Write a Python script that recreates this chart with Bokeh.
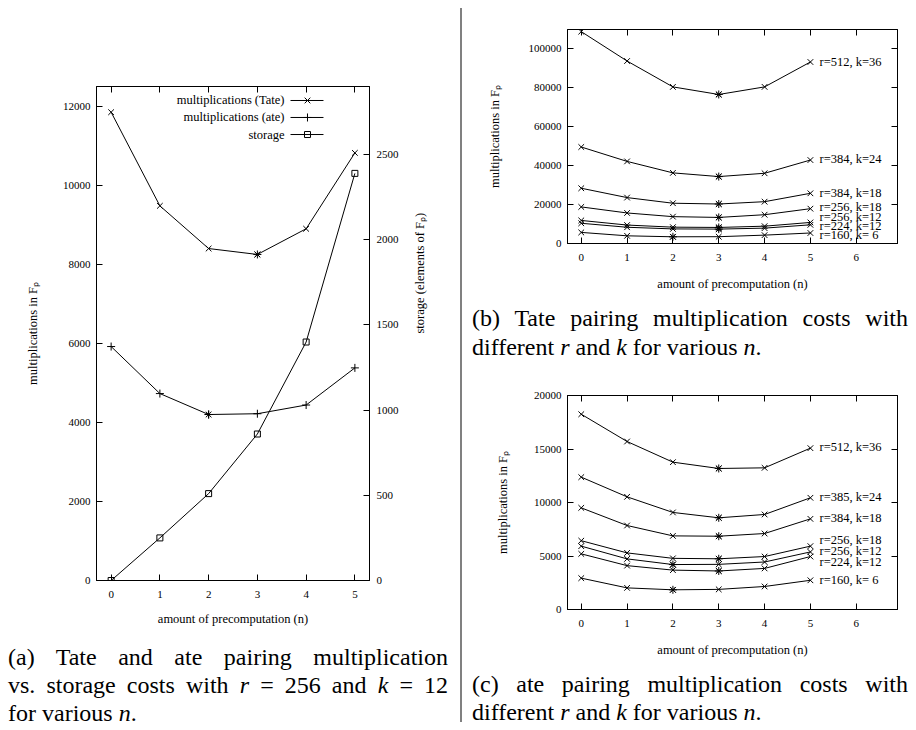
import math
import numpy as np
from bokeh.plotting import figure
from bokeh.models import (LinearAxis, Range1d, FixedTicker, Div, Spacer,
                          CustomJSTickFormatter, BasicTickFormatter)
from bokeh.layouts import row, column
from bokeh.core.properties import value
from bokeh.embed import file_html
from bokeh.resources import INLINE

# ---------------- data ----------------
n = [0, 1, 2, 3, 4, 5]

# (a) r=256, k=12
tate_a = [11850, 9480, 8400, 8250, 8900, 10820]
ate_a = [5920, 4730, 4200, 4220, 4440, 5380]
storage_a = [0, 250, 510, 860, 1400, 2390]
legend_a = ["multiplications (Tate)", "multiplications (ate)", "storage"]

# (b) Tate pairing
labels_b = ["r=512, k=36", "r=384, k=24", "r=384, k=18", "r=256, k=18",
            "r=256, k=12", "r=224, k=12", "r=160, k= 6"]
tate_512_36 = [108900, 93800, 80500, 76600, 80500, 93300]
tate_384_24 = [49600, 42200, 36300, 34400, 36100, 42900]
tate_384_18 = [28400, 23600, 20700, 20300, 21500, 25800]
tate_256_18 = [18800, 15700, 13800, 13400, 14800, 17900]
tate_256_12 = [11850, 9480, 8400, 8250, 8900, 10820]
tate_224_12 = [10400, 8350, 7500, 7400, 7900, 9600]
tate_160_6 = [5700, 3950, 3450, 3500, 4300, 5400]

# (c) ate pairing
labels_c = ["r=512, k=36", "r=385, k=24", "r=384, k=18", "r=256, k=18",
            "r=256, k=12", "r=224, k=12", "r=160, k= 6"]
ate_512_36 = [18250, 15700, 13770, 13180, 13240, 15080]
ate_385_24 = [12370, 10530, 9070, 8570, 8880, 10440]
ate_384_18 = [9500, 7850, 6880, 6850, 7100, 8470]
ate_256_18 = [6430, 5290, 4780, 4740, 4950, 5920]
ate_256_12 = [5920, 4730, 4200, 4220, 4440, 5380]
ate_224_12 = [5200, 4100, 3680, 3600, 3840, 4950]
ate_160_6 = [2930, 2020, 1840, 1880, 2150, 2730]

# ---------------- styling helpers ----------------
SERIF = "Liberation Serif"
TICK_FS = "11px"
LABEL_FS = "12.5px"


def style_axis(ax, ticks, label_standoff=6, axis_label_standoff=10, show_labels=True):
    ax.ticker = FixedTicker(ticks=ticks)
    ax.major_tick_in = 6
    ax.major_tick_out = 0
    ax.minor_tick_line_color = None
    ax.major_tick_line_color = "black"
    ax.axis_line_color = "black"
    ax.major_label_text_font = SERIF
    ax.major_label_text_font_size = TICK_FS
    ax.major_label_text_color = "black"
    ax.major_label_standoff = label_standoff
    ax.axis_label_text_font = SERIF
    ax.axis_label_text_font_size = LABEL_FS
    ax.axis_label_text_font_style = "normal"
    ax.axis_label_text_color = "black"
    ax.axis_label_standoff = axis_label_standoff
    if not show_labels:
        ax.formatter = CustomJSTickFormatter(code="return ''")
        ax.major_label_standoff = 0
        ax.major_label_text_font_size = "0px"


def base_fig(width, height, xr, yr, mb):
    p = figure(width=width, height=height, x_range=xr, y_range=yr,
               output_backend="svg", toolbar_location=None,
               min_border_left=mb[0], min_border_right=mb[1],
               min_border_top=mb[2], min_border_bottom=mb[3])
    p.xgrid.visible = False
    p.ygrid.visible = False
    p.outline_line_color = "black"
    p.outline_line_width = 1
    p.background_fill_color = "white"
    p.border_fill_color = "white"
    return p


def draw_series(p, xs, ys, marker="x", size=8, mark_min=True, **kw):
    p.line(xs, ys, line_color="black", line_width=1, **kw)
    p.scatter(xs, ys, marker=marker, size=size, line_color="black",
              fill_color=None, line_width=1, **kw)
    if mark_min:
        i = int(np.argmin(ys))
        p.scatter([xs[i]], [ys[i]], marker="asterisk", size=size,
                  line_color="black", line_width=1, **kw)


# ---------------- figure (a) ----------------
p_a = base_fig(444, 632, Range1d(-0.3, 5.3), Range1d(0, 12500), (88, 83, 78, 60))
p_a.extra_y_ranges = {"st": Range1d(0, 2900)}
style_axis(p_a.xaxis[0], n, label_standoff=10, axis_label_standoff=11)
p_a.xaxis.axis_label = "amount of precomputation (n)"
style_axis(p_a.yaxis[0], [0, 2000, 4000, 6000, 8000, 10000, 12000],
           label_standoff=6, axis_label_standoff=20)
p_a.yaxis.axis_label = "multiplications in F\u209a"
ax_r = LinearAxis(y_range_name="st")
style_axis(ax_r, [0, 500, 1000, 1500, 2000, 2500], label_standoff=7, axis_label_standoff=18)
ax_r.axis_label = "storage (elements of F\u209a)"
ax_r.axis_label_orientation = math.pi / 2
p_a.add_layout(ax_r, "right")
ax_t = LinearAxis()
style_axis(ax_t, n, show_labels=False)
p_a.add_layout(ax_t, "above")

draw_series(p_a, n, tate_a, marker="x", size=8)
draw_series(p_a, n, ate_a, marker="cross", size=8)
draw_series(p_a, n, storage_a, marker="square", size=6, mark_min=False, y_range_name="st")

# legend (text to the left of the sample, gnuplot style)
leg_y = [12146, 11716, 11285]
p_a.text(x=3.557, y=leg_y, text=legend_a, text_align="right", text_baseline="middle",
         text_font=value(SERIF), text_font_size=value(LABEL_FS), text_color="black")
p_a.segment(x0=3.68, y0=leg_y, x1=4.356, y1=leg_y, line_color="black", line_width=1)
p_a.scatter(x=[4.028], y=[leg_y[0]], marker="x", size=8, line_color="black")
p_a.scatter(x=[4.028], y=[leg_y[1]], marker="cross", size=8, line_color="black")
p_a.scatter(x=[4.028], y=[leg_y[2]], marker="square", size=6, line_color="black", fill_color=None)


# ---------------- figures (b), (c) ----------------
def line_fig(width, height, ymax, yticks, mb, series, labels, label_y, ylab_standoff):
    p = base_fig(width, height, Range1d(-0.3, 6.9), Range1d(0, ymax), mb)
    style_axis(p.xaxis[0], [0, 1, 2, 3, 4, 5, 6], label_standoff=10, axis_label_standoff=13)
    p.xaxis.axis_label = "amount of precomputation (n)"
    style_axis(p.yaxis[0], yticks, label_standoff=6, axis_label_standoff=ylab_standoff)
    p.yaxis[0].formatter = BasicTickFormatter(use_scientific=False)
    p.yaxis.axis_label = "multiplications in F\u209a"
    at = LinearAxis()
    style_axis(at, [0, 1, 2, 3, 4, 5, 6], show_labels=False)
    p.add_layout(at, "above")
    ar = LinearAxis()
    style_axis(ar, yticks, show_labels=False)
    p.add_layout(ar, "right")
    for ys in series:
        draw_series(p, n, ys, marker="x", size=8)
    p.text(x=5.2, y=label_y, text=labels, text_align="left", text_baseline="middle",
           text_font=value(SERIF), text_font_size=value(LABEL_FS), text_color="black")
    return p


p_b = line_fig(442, 292, 110000, [0, 20000, 40000, 60000, 80000, 100000], (101, 11, 21, 57),
               [tate_512_36, tate_384_24, tate_384_18, tate_256_18, tate_256_12, tate_224_12, tate_160_6],
               labels_b, [93540, 43260, 26050, 18970, 13440, 8990, 4340], 24)

p_c = line_fig(442, 296, 20000, [0, 5000, 10000, 15000, 20000], (94, 11, 29, 53),
               [ate_512_36, ate_385_24, ate_384_18, ate_256_18, ate_256_12, ate_224_12, ate_160_6],
               labels_c, [15170, 10500, 8570, 6450, 5450, 4420, 2800], 21)

# ---------------- captions ----------------
FONT = "font-family:'Liberation Serif',serif; font-size:24px; color:black;"
J = "text-align:justify; text-align-last:justify;"


def cap_html(width, pad_top, lines):
    # lines: (html, justify, line_height, margin_top)
    parts = [f"<div style=\"{FONT} width:{width}px; padding-top:{pad_top}px;\">"]
    for txt, just, lh, mt in lines:
        parts.append(f"<div style=\"margin-top:{mt}px; height:{lh}px; line-height:{lh}px; "
                     f"white-space:nowrap; {J if just else 'text-align:left;'}\">{txt}</div>")
    parts.append("</div>")
    return "".join(parts)


cap_a = Div(text=cap_html(440, 2.6, [
    ("(a) Tate and ate pairing multiplication", True, 28.5, 0),
    ("vs. storage costs with <i>r</i> = 256 and <i>k</i> = 12", True, 28.5, 0),
    ("for various <i>n</i>.", False, 14, 6.9)]), width=440, height=82, margin=0)

cap_b = Div(text=cap_html(436, 4.3, [
    ("(b) Tate pairing multiplication costs with", True, 28.5, 0),
    ("different <i>r</i> and <i>k</i> for various <i>n</i>.", False, 28.5, 0)]),
    width=436, height=66, margin=(0, 0, 0, 6))

cap_c = Div(text=cap_html(436, 7.6, [
    ("(c) ate pairing multiplication costs with", True, 28.5, 0),
    ("different <i>r</i> and <i>k</i> for various <i>n</i>.", False, 14, 6.7)]),
    width=436, height=60, margin=(0, 0, 0, 6))

sep = Div(text="", width=2, height=714, margin=0, styles={"background-color": "#808080"})

col_a = column(p_a, cap_a)
col_bc = column(p_b, cap_b, p_c, cap_c)
body = row(col_a, Spacer(width=8, height=10), sep, Spacer(width=4, height=10), col_bc)
layout = column(Spacer(width=10, height=8), row(Spacer(width=8, height=10), body))

open("out.html", "w").write(file_html(layout, INLINE))
